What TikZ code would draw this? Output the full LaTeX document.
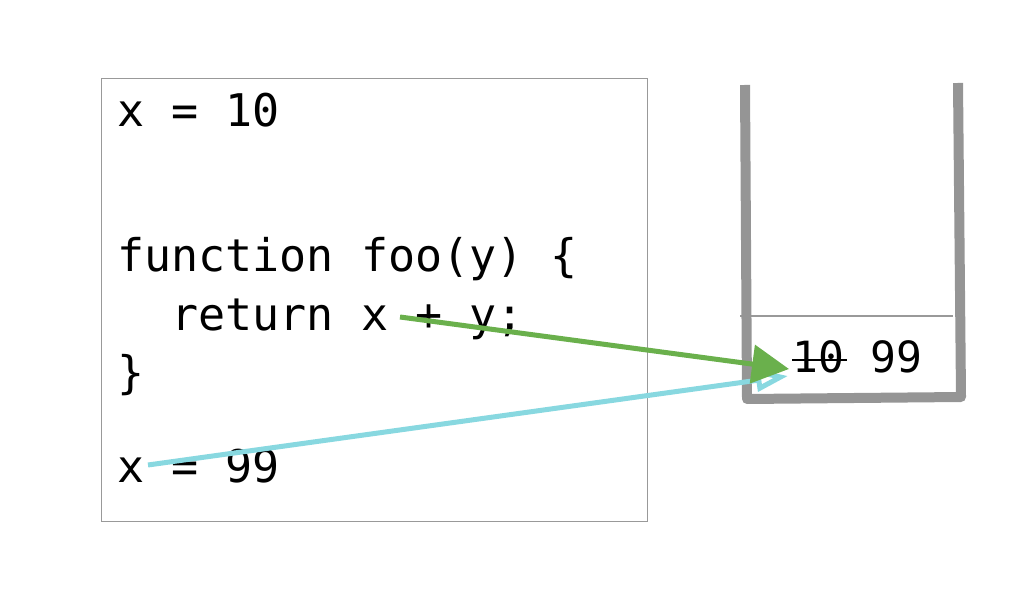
\documentclass[tikz,border=0pt]{standalone}
\usepackage{fontspec}
\setmonofont{DejaVu Sans Mono}
\usetikzlibrary{arrows.meta}
\definecolor{boxgray}{HTML}{999999}
\definecolor{wallgray}{HTML}{959595}
\definecolor{arrgreen}{HTML}{6AB04C}
\definecolor{arrcyan}{HTML}{88D8E0}
\tikzset{
  code/.style={anchor=base west, inner sep=0pt, font=\ttfamily\fontsize{45}{45}\selectfont, text=black},
  wall/.style={draw=wallgray, line width=10pt, line cap=butt, line join=round},
  link/.style={line width=5pt}
}
\begin{document}
\begin{tikzpicture}[x=1pt,y=-1pt]
\useasboundingbox (0,0) rectangle (1024,593);
% code box
\node[draw=boxgray, line width=1.4pt, minimum width=546pt, minimum height=443pt, anchor=north west, inner sep=0pt] (box) at (101,78) {};
\node[code] (l1) at (117,127) {x = 10};
\node[code] (l2) at (117,272) {function foo(y) \{};
\node[code] (l3) at (117,330) {\ \ return x + y;};
\node[code] (l4) at (117,388) {\}};
\node[code] (l5) at (117,482) {x = 99};
% stack container
\draw[draw=boxgray, line width=1.4pt] (740,316) coordinate (dl) -- (953,316) coordinate (dr);
\draw[wall] (745,85) coordinate (wl) -- (747,399) coordinate (bl) -- (961,397) coordinate (br) -- (958,83) coordinate (wr);
\node[code, font=\ttfamily\fontsize{43}{43}\selectfont] (v10) at (792,372) {10};
\node[code, font=\ttfamily\fontsize{43}{43}\selectfont] (v99) at (870,372) {99};
\draw[line width=2.5pt] ([xshift=0pt,yshift=12pt]v10.base west) -- ([xshift=3pt,yshift=12pt]v10.base east);
% arrows
\coordinate (gs) at (400,317);
\coordinate (ge) at (789,369);
\coordinate (cs) at (148,465);
\coordinate (ce) at (788,376);
\draw[link, draw=arrcyan, -{Triangle[open, length=32pt, width=22pt, line width=5pt]}] (cs) -- (ce);
\draw[link, draw=arrgreen, -{Triangle[length=37pt, width=38pt]}] (gs) -- (ge);
\end{tikzpicture}
\end{document}
